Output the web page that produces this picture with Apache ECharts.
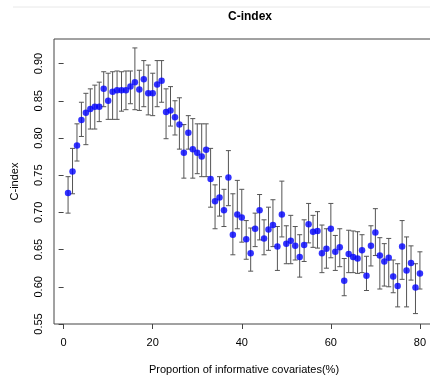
<!DOCTYPE html>
<html>
<head>
<meta charset="utf-8">
<script src="https://cdn.jsdelivr.net/npm/echarts@6/dist/echarts.min.js"></script>
<style>
  html, body { margin: 0; padding: 0; background: #fff; }
  #chart { width: 430px; height: 376px; }
</style>
</head>
<body>
<div id="chart"></div>
<script>
// proportion of informative covariates (%)
const proportions = [
  1, 2, 3, 4, 5, 6, 7, 8, 9, 10, 11, 12, 13, 14, 15, 16, 17, 18, 19, 20,
  21, 22, 23, 24, 25, 26, 27, 28, 29, 30, 31, 32, 33, 34, 35, 36, 37, 38, 39, 40,
  41, 42, 43, 44, 45, 46, 47, 48, 49, 50, 51, 52, 53, 54, 55, 56, 57, 58, 59, 60,
  61, 62, 63, 64, 65, 66, 67, 68, 69, 70, 71, 72, 73, 74, 75, 76, 77, 78, 79, 80
];
// mean C-index
const cMean = [
  0.726, 0.755, 0.790, 0.824, 0.834, 0.839, 0.842, 0.842, 0.866, 0.850,
  0.862, 0.864, 0.864, 0.864, 0.869, 0.875, 0.865, 0.879, 0.860, 0.860,
  0.872, 0.877, 0.835, 0.837, 0.828, 0.818, 0.780, 0.807, 0.785, 0.780,
  0.775, 0.784, 0.745, 0.715, 0.720, 0.703, 0.747, 0.670, 0.697, 0.693,
  0.664, 0.645, 0.678, 0.703, 0.665, 0.677, 0.683, 0.654, 0.697, 0.658,
  0.662, 0.655, 0.640, 0.656, 0.684, 0.674, 0.675, 0.645, 0.651, 0.678,
  0.647, 0.653, 0.608, 0.644, 0.640, 0.638, 0.649, 0.615, 0.655, 0.673,
  0.642, 0.634, 0.639, 0.614, 0.601, 0.654, 0.622, 0.632, 0.599, 0.618
];
// lower end of the error bar
const cLow = [
  0.699, 0.725, 0.769, 0.802, 0.791, 0.812, 0.812, 0.822, 0.842, 0.825,
  0.825, 0.825, 0.836, 0.838, 0.846, 0.838, 0.837, 0.842, 0.831, 0.830,
  0.842, 0.848, 0.799, 0.816, 0.804, 0.785, 0.746, 0.785, 0.746, 0.752,
  0.748, 0.748, 0.707, 0.678, 0.695, 0.681, 0.709, 0.643, 0.678, 0.660,
  0.637, 0.621, 0.654, 0.663, 0.643, 0.649, 0.654, 0.622, 0.667, 0.631,
  0.631, 0.636, 0.613, 0.634, 0.659, 0.653, 0.652, 0.619, 0.625, 0.639,
  0.622, 0.627, 0.588, 0.619, 0.619, 0.618, 0.619, 0.595, 0.628, 0.642,
  0.597, 0.601, 0.600, 0.592, 0.573, 0.610, 0.573, 0.609, 0.564, 0.597
];
// upper end of the error bar
const cHigh = [
  0.748, 0.786, 0.819, 0.848, 0.860, 0.866, 0.871, 0.875, 0.889, 0.887,
  0.889, 0.890, 0.889, 0.890, 0.890, 0.921, 0.891, 0.904, 0.898, 0.887,
  0.904, 0.904, 0.866, 0.869, 0.850, 0.854, 0.818, 0.830, 0.826, 0.819,
  0.819, 0.819, 0.786, 0.737, 0.748, 0.731, 0.783, 0.725, 0.743, 0.731,
  0.689, 0.679, 0.699, 0.724, 0.690, 0.707, 0.717, 0.681, 0.742, 0.682,
  0.696, 0.681, 0.670, 0.690, 0.712, 0.696, 0.701, 0.683, 0.678, 0.712,
  0.669, 0.678, 0.638, 0.676, 0.675, 0.674, 0.670, 0.641, 0.682, 0.705,
  0.666, 0.658, 0.665, 0.636, 0.631, 0.689, 0.667, 0.655, 0.631, 0.647
];
const xTicks = [0, 20, 40, 60, 80];
const yTicks = [0.55, 0.60, 0.65, 0.70, 0.75, 0.80, 0.85, 0.90];

const font = 'Liberation Sans, Arial, sans-serif';
const chart = echarts.init(document.getElementById('chart'), null, { renderer: 'canvas' });

const barData = proportions.map((x, i) => [x, cLow[i], cHigh[i]]);
const pointData = proportions.map((x, i) => [x, cMean[i]]);

// draw one error bar: vertical stem plus two caps
const renderBar = (params, api) => {
  const top = api.coord([api.value(0), api.value(2)]);
  const bot = api.coord([api.value(0), api.value(1)]);
  const w = 2.5;
  const style = { stroke: '#555', lineWidth: 1 };
  return {
    type: 'group',
    children: [
      { type: 'line', shape: { x1: top[0], y1: top[1], x2: bot[0], y2: bot[1] }, style },
      { type: 'line', shape: { x1: top[0] - w, y1: top[1], x2: top[0] + w, y2: top[1] }, style },
      { type: 'line', shape: { x1: bot[0] - w, y1: bot[1], x2: bot[0] + w, y2: bot[1] }, style },
    ],
  };
};

const option = {
  animation: false,
  backgroundColor: '#fff',
  title: {
    text: 'C-index',
    left: 245,
    top: 6,
    textAlign: 'center',
    textStyle: { fontFamily: font, fontSize: 12, fontWeight: 'bold', color: '#000' },
  },
  graphic: [
    { type: 'line', shape: { x1: 13, y1: 7, x2: 430, y2: 7 }, style: { stroke: '#e8e8e8', lineWidth: 1 } },
  ],
  grid: {
    left: 54,
    top: 39,
    right: -4,
    bottom: 52,
    outerBoundsMode: 'none',
    containLabel: false,
    show: true,
    borderColor: '#444',
    borderWidth: 1,
    backgroundColor: 'transparent',
  },
  xAxis: {
    type: 'value',
    min: -2.16,
    max: 83.16,
    name: 'Proportion of informative covariates(%)',
    nameLocation: 'middle',
    nameGap: 40,
    nameTextStyle: { fontFamily: font, fontSize: 11, color: '#000' },
    axisLine: { show: false },
    axisTick: { show: true, length: 5, customValues: xTicks, lineStyle: { color: '#444' } },
    axisLabel: { customValues: xTicks, margin: 13, fontFamily: font, fontSize: 11, color: '#000' },
    splitLine: { show: false },
  },
  yAxis: {
    type: 'value',
    min: 0.55,
    max: 0.933,
    name: 'C-index',
    nameLocation: 'middle',
    nameGap: 34,
    nameRotate: 90,
    nameTextStyle: { fontFamily: font, fontSize: 11, color: '#000' },
    axisLine: { show: false },
    axisTick: { show: true, length: 5, customValues: yTicks, lineStyle: { color: '#444' } },
    axisLabel: {
      customValues: yTicks,
      rotate: 90,
      margin: 10,
      fontFamily: font,
      fontSize: 11,
      color: '#000',
      formatter: (v) => v.toFixed(2),
    },
    splitLine: { show: false },
  },
  series: [
    {
      type: 'custom',
      data: barData,
      renderItem: renderBar,
      encode: { x: 0, y: [1, 2] },
      z: 2,
    },
    {
      type: 'scatter',
      data: pointData,
      symbol: 'circle',
      symbolSize: 6.5,
      itemStyle: { color: '#0000ff' },
      z: 3,
    },
  ],
};

chart.setOption(option);
</script>
</body>
</html>
